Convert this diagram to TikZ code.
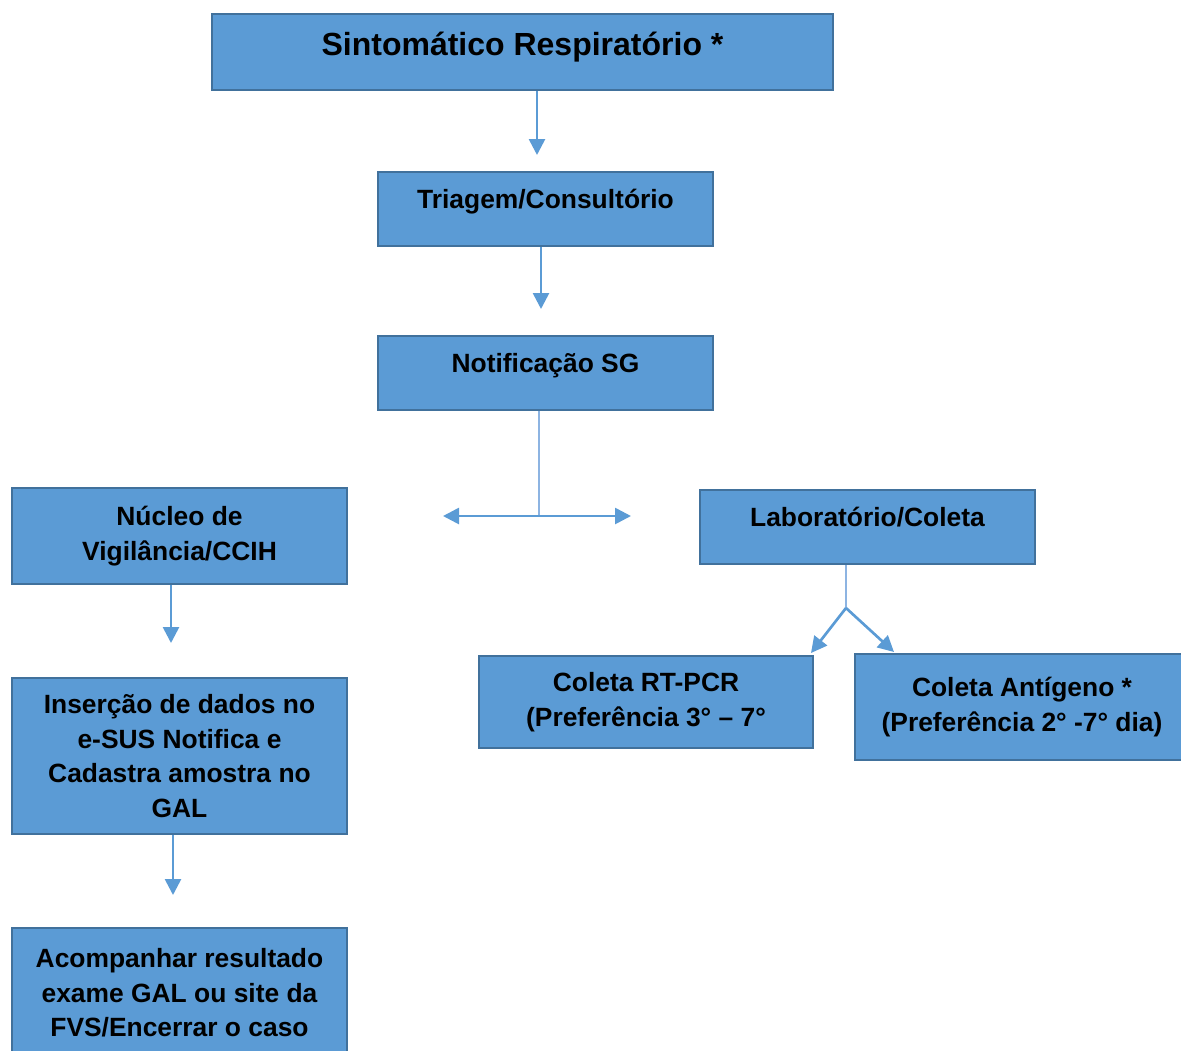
\documentclass[tikz,border=0pt]{standalone}
\usepackage{fontspec}
\setmainfont{Liberation Sans}
\usetikzlibrary{arrows.meta,positioning,calc}
\definecolor{boxblue}{HTML}{5B9BD5}
\definecolor{boxedge}{HTML}{41719C}
\definecolor{linkblue}{HTML}{8DB4E2}
\def\px{0.75pt}
\tikzset{
  blk/.style={draw=boxedge, line width=1.5pt, fill=boxblue, align=center, inner sep=0pt, minimum width=335*\px, font=\bfseries\fontsize{19.8}{26}\selectfont},
  oneline/.style={text height=36*\px, text depth=38*\px},
  arrow/.style={-{Triangle[length=12pt,width=12pt]}, draw=boxblue, line width=2pt},
  twoway/.style={{Triangle[length=12pt,width=12pt]}-{Triangle[length=12pt,width=12pt]}, draw=boxblue, line width=2pt},
  link/.style={draw=linkblue, line width=1pt}
}

\begin{document}
\begin{tikzpicture}[x=0.75pt,y=-0.75pt]
  \useasboundingbox (0,0) rectangle (1181,1050);

  % main column
  \node[blk, minimum width=621*\px, text height=41*\px, text depth=35*\px, font=\bfseries\fontsize{24}{28}\selectfont] (sint) at (522.5,52) {Sintomático Respiratório *};
  \node[blk, oneline] (triag) at (545.5,209) {Triagem/Consultório};
  \node[blk, oneline] (notif) at (545.5,373) {Notificação SG};

  % left branch
  \node[blk, minimum height=96*\px] (nucleo) at (179.5,536) {Núcleo de\\Vigilância/CCIH};
  \node[blk, minimum height=156*\px] (insercao) at (179.5,756) {Inserção de dados no\\e-SUS Notifica e\\Cadastra amostra no\\GAL};
  \node[blk, minimum height=130*\px] (acomp) at (179.5,993) {Acompanhar resultado\\exame GAL ou site da\\FVS/Encerrar o caso};

  % right branch
  \node[blk, oneline] (lab) at (867.5,527) {Laboratório/Coleta};
  \node[blk, minimum width=334*\px, minimum height=92*\px] (rtpcr) at (646,702) {Coleta RT-PCR\\(Preferência 3° – 7°};
  \node[blk, minimum width=334*\px, minimum height=106*\px] (antigeno) at (1022,707) {Coleta Antígeno *\\(Preferência 2° -7° dia)};

  \coordinate (a1) at (537,155);
  \coordinate (a2) at (541,309);
  \coordinate (split) at (539,516);
  \coordinate (sl) at (443,516);
  \coordinate (sr) at (631,516);
  \coordinate (a3) at (171,643);
  \coordinate (a4) at (173,895);
  \coordinate (fork) at (846,608);
  \coordinate (fl) at (811,653);
  \coordinate (fr) at (894,652);

  \draw[arrow] (sint.south -| a1) -- (a1);
  \draw[arrow] (triag.south -| a2) -- (a2);
  \draw[link] (notif.south -| split) -- (split);
  \draw[twoway] (sl) -- (sr);
  \draw[arrow] (nucleo.south -| a3) -- (a3);
  \draw[arrow] (insercao.south -| a4) -- (a4);
  \draw[link] (lab.south -| fork) -- (fork);
  \draw[arrow] (fork) -- (fl);
  \draw[arrow] (fork) -- (fr);
\end{tikzpicture}
\end{document}
